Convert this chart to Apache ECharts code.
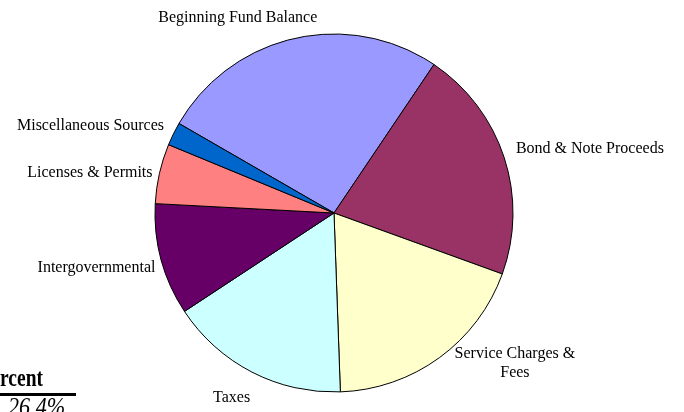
<!DOCTYPE html>
<html>
<head>
<meta charset="utf-8"/>
<script src="https://cdn.jsdelivr.net/npm/echarts@6/dist/echarts.min.js"></script>
<style>
html,body{margin:0;padding:0;background:#fff;}
#main{width:684px;height:412px;}
</style>
</head>
<body>
<div id="main"></div>
<script type="text/javascript">
// slice names, in drawing order (clockwise)
var names = ['Beginning Fund Balance', 'Bond & Note Proceeds', 'Service Charges &\nFees',
             'Taxes', 'Intergovernmental', 'Licenses & Permits', 'Miscellaneous Sources'];
// percent of total
var values = [26.1, 21.1, 18.9, 16.3, 10.1, 5.4, 2.1];
var colors = ['#9999FF', '#993366', '#FFFFCC', '#CCFFFF', '#660066', '#FF8080', '#0066CC'];

// nudges for the labels (dx, dy)
var labelNudge = [[30, -15], [1, -7], [67, 1], [6, 20], [5, 6], [4, 1], [1, -5]];

var myChart = echarts.init(document.getElementById('main'));

var pieData = [];
for (var i = 0; i < names.length; i++) {
    pieData.push({name: names[i], value: values[i], itemStyle: {color: colors[i]}});
}

var options = {
    animation: false,
    series: [{
        type: 'pie',
        center: [334, 213],
        radius: 179,
        startAngle: 150,
        clockwise: true,
        data: pieData,
        itemStyle: {borderColor: '#000', borderWidth: 1},
        label: {
            position: 'outside',
            fontFamily: 'Liberation Serif',
            fontSize: 16,
            color: '#000',
            lineHeight: 19
        },
        labelLine: {show: false, length: 6, length2: 0},
        labelLayout: function (p) {
            var n = labelNudge[p.dataIndex];
            var o = {dx: n[0], dy: n[1]};
            if (p.dataIndex === 2) o.align = 'center';
            return o;
        },
        emphasis: {disabled: true}
    }],
    graphic: [
        {type: 'text', x: 43, y: 366, scaleX: 0.75,
         style: {text: 'Percent', font: 'bold 26px "Liberation Serif"', fill: '#000', textAlign: 'right', textVerticalAlign: 'top'}},
        {type: 'line', shape: {x1: 0, y1: 394.5, x2: 76, y2: 394.5}, style: {stroke: '#000', lineWidth: 3}},
        {type: 'text', x: 8, y: 395, scaleX: 0.85,
         style: {text: '26.4%', font: 'italic 26px "Liberation Serif"', fill: '#000', textVerticalAlign: 'top'}}
    ]
};
myChart.setOption(options);
</script>
</body>
</html>
